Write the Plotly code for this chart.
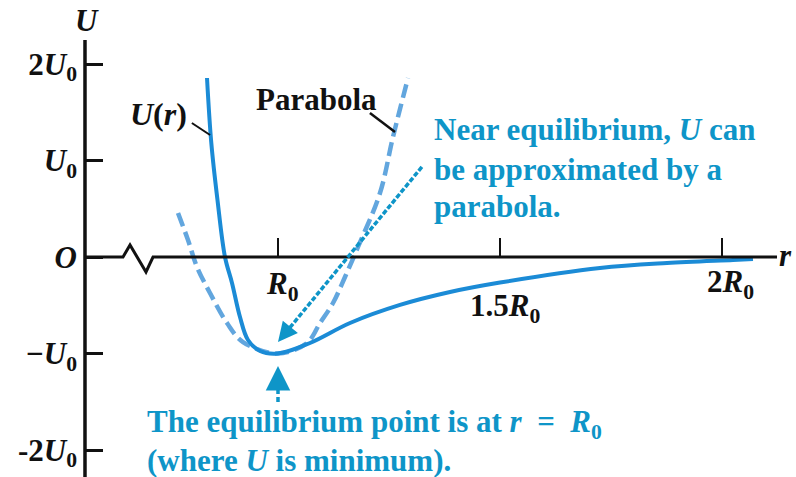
import plotly.graph_objects as go

# Distances r in units of R0, energies U in units of U0
r_potential = [0.8401, 0.8498, 0.8637, 0.8806, 0.8964, 0.9144, 0.9324, 0.9595, 1.0000,
               1.0721, 1.1622, 1.2748, 1.3874, 1.5000, 1.7252, 1.8761, 2.0248, 2.0698]
u_potential = [1.855, 1.181, 0.591, 0.0, -0.269, -0.622, -0.860, -0.974, -1.0,
               -0.891, -0.684, -0.497, -0.363, -0.265, -0.114, -0.062, -0.031, -0.021]

r_parabola = [0.7748, 0.7973, 0.8176, 0.8468, 0.8851, 0.9212, 1.0000, 1.0653,
              1.0946, 1.1239, 1.1509, 1.1802, 1.2297, 1.2590, 1.2928]
u_parabola = [0.456, 0.176, -0.104, -0.373, -0.684, -0.881, -1.0, -0.891,
              -0.684, -0.477, -0.207, 0.104, 0.663, 1.244, 1.855]

r_ticks = [1.0, 1.5, 2.0]
r_tick_labels = ["<i>R</i><sub>0</sub>", "1.5<i>R</i><sub>0</sub>", "2<i>R</i><sub>0</sub>"]
u_ticks = [2, 1, 0, -1, -2]
u_tick_labels = ["2<i>U</i><sub>0</sub>", "<i>U</i><sub>0</sub>", "<i>O</i>",
                 "\u2212<i>U</i><sub>0</sub>", "-2<i>U</i><sub>0</sub>"]

W, H = 796, 477
X_RANGE = [0.37387, 2.16667]
Y_RANGE = [-2.2798, 2.6632]

SERIF = "Liberation Serif, Times New Roman, serif"
CURVE = "#1b8bd6"
DASHED = "#62a6de"
NOTE = "#0e95c8"
BLACK = "#111111"

fig = go.Figure()

fig.add_trace(go.Scatter(
    x=r_parabola, y=u_parabola, mode="lines", line_shape="spline",
    line=dict(color=DASHED, width=4.5, dash="14px,6px"), hoverinfo="skip",
))
fig.add_trace(go.Scatter(
    x=r_potential, y=u_potential, mode="lines", line_shape="spline",
    line=dict(color=CURVE, width=4), hoverinfo="skip",
))

# r axis with a break near the origin
y_axis_r = 0.5653
fig.add_shape(type="path", xref="x", yref="y",
              path=f"M {y_axis_r},0 L 0.6509,0 L 0.6667,0.124 L 0.7027,-0.155 L 0.7185,0 L 2.1239,0",
              line=dict(color=BLACK, width=3))
# U axis
fig.add_shape(type="line", xref="x", yref="y", x0=y_axis_r, x1=y_axis_r, y0=2.2487, y1=Y_RANGE[0],
              line=dict(color=BLACK, width=3.5))

# Leader lines for labels
fig.add_shape(type="line", xref="x", yref="y", x0=0.806, y0=1.389, x1=0.847, y1=1.264,
              line=dict(color=BLACK, width=2))
fig.add_shape(type="line", xref="x", yref="y", x0=1.207, y0=1.492, x1=1.2635, y1=1.295,
              line=dict(color=BLACK, width=2.5))

# Dotted arrow shafts
fig.add_shape(type="line", xref="x", yref="y", x0=1.324, y0=0.933, x1=1.0144, y1=-0.801,
              line=dict(color=NOTE, width=3.5, dash="5px,2px"))
fig.add_shape(type="line", xref="x", yref="y", x0=1.0, y0=-1.503, x1=1.0, y1=-1.22,
              line=dict(color=NOTE, width=3.5, dash="5px,3px"))

ann = []
def text(x, y, s, size=31, color=BLACK, xanchor="center"):
    ann.append(dict(x=x, y=y, xref="x", yref="y", text=s, showarrow=False,
                    xanchor=xanchor, yanchor="middle",
                    font=dict(family=SERIF, size=size, color=color)))

# Arrowheads
ann.append(dict(x=1.0, y=-0.881, xref="x", yref="y", text="", showarrow=True,
                ax=9, ay=-11, arrowhead=2, arrowsize=1.3, arrowwidth=3, arrowcolor=NOTE))
ann.append(dict(x=1.0, y=-1.13, xref="x", yref="y", text="", showarrow=True,
                ax=0, ay=10, arrowhead=2, arrowsize=1.4, arrowwidth=3.5, arrowcolor=NOTE))

text(0.570, 2.45, "<b><i>U</i></b>")
text(2.142, 0.02, "<b><i>r</i></b>")
text(0.730, 1.48, "<b><i>U</i>(<i>r</i>)</b>", size=32)
text(1.0856, 1.63, "<b>Parabola</b>")
for s, yy in zip(["<b>Near equilibrium, <i>U</i> can</b>", "<b>be approximated by a</b>", "<b>parabola.</b>"],
                 [1.32, 0.91, 0.52]):
    text(1.347, yy, s, color=NOTE, xanchor="left")
for s, yy in zip(["<b>The equilibrium point is at <i>r</i>  =  <i>R</i><sub>0</sub></b>",
                  "<b>(where <i>U</i> is minimum).</b>"], [-1.73, -2.11]):
    text(0.700, yy, s, color=NOTE, xanchor="left")
for rx, uy, s in zip(r_ticks, [-0.30, -0.53, -0.28], r_tick_labels):
    dx = {1.0: 0.009, 1.5: 0.011, 2.0: 0.020}[rx]
    text(rx + dx, uy, f"<b>{s}</b>")

fig.update_layout(
    width=W, height=H, margin=dict(l=0, r=0, t=0, b=0),
    paper_bgcolor="white", plot_bgcolor="white", showlegend=False,
    annotations=ann,
    xaxis=dict(range=X_RANGE, domain=[0, 1], showgrid=False, zeroline=False, showline=False,
               tickvals=r_ticks, showticklabels=False, ticks="inside", ticklen=19,
               tickwidth=2, tickcolor=BLACK, anchor="free",
               position=(0 - Y_RANGE[0]) / (Y_RANGE[1] - Y_RANGE[0])),
    yaxis=dict(range=Y_RANGE, domain=[0, 1], showgrid=False, zeroline=False, showline=False,
               tickvals=u_ticks, ticktext=[f"<b>{t}</b>" for t in u_tick_labels],
               ticks="inside", ticklen=17, tickwidth=2.5, tickcolor=BLACK,
               anchor="free", position=85 / W, ticklabelstandoff=8,
               tickfont=dict(family=SERIF, size=31, color=BLACK)),
)

fig.write_html("out.html", config={"displayModeBar": False})
